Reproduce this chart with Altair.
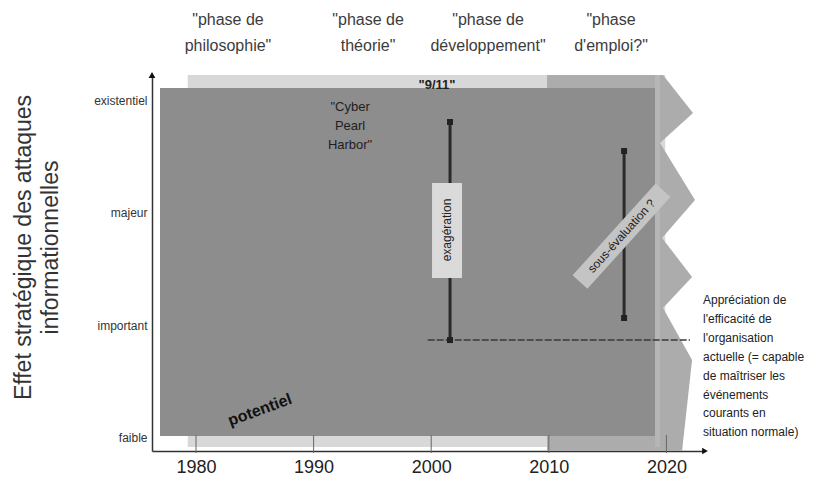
import altair as alt
import pandas as pd

FONT = "Liberation Sans"

# ---- axes ----
x_ticks = [1980, 1990, 2000, 2010, 2020]
y_levels = [0, 1, 2, 3]
y_names = ["faible", "important", "majeur", "existentiel"]
X_DOMAIN = [1976.26, 2023.28]
Y_DOMAIN = [-0.12, 3.225]
y_title = ["Effet stratégique des attaques", "informationnelles"]

# ---- background shapes (years / levels) ----
light_x = [1979.3, 2019.9]
light_y = [-0.085, 3.225]
dark_x = [1976.94, 2019.03]
dark_y = [0.013, 3.11]
band_x = [2019.03, 2019.45]
band_y = [-0.085, 3.225]
zig_left = 2009.85
zig_edge_x = [2019.71, 2022.26, 2019.45, 2022.43, 2019.63, 2022.18, 2019.71, 2022.18, 2021.33]
zig_edge_y = [3.225, 2.887, 2.620, 2.113, 1.775, 1.428, 1.152, 0.690, -0.12]
tick_y = [0.022, -0.138]

# ---- annotations ----
arrow_x = [2001.6, 2016.4]
arrow_lo = [0.867, 1.063]
arrow_hi = [2.807, 2.549]
threshold_x = [1999.7, 2022.0]
threshold_y = 0.867
exag_box_x = [2000.07, 2002.62]
exag_box_y = [1.419, 2.264]
sous_box = [(2012.65, 1.383), (2019.71, 2.2)]

phase_x = [1982.72, 1994.63, 2004.83, 2015.29]
phase_labels = ['"phase de\nphilosophie"', '"phase de\nthéorie"',
                '"phase de\ndéveloppement"', '"phase\nd\'emploi?"']
phase_y = 3.714

right_text = ("Appréciation de\nl'efficacité de\nl'organisation\nactuelle (= capable\n"
              "de maîtriser les\névénements\ncourants en\nsituation normale)")

xs = alt.Scale(domain=X_DOMAIN, nice=False, zero=False)
ys = alt.Scale(domain=Y_DOMAIN, nice=False, zero=False)

label_expr = "[" + ",".join("'%s'" % n for n in y_names) + "][datum.value]"

x_axis = alt.Axis(
    values=x_ticks, format="d", title=None, grid=False, ticks=False, tickSize=0,
    labelFontSize=18, labelFont=FONT, labelColor="#222", labelPadding=7,
    domainColor="#333", domainWidth=1.5)
y_axis = alt.Axis(
    values=y_levels, labelExpr=label_expr, grid=False, ticks=False, tickSize=0,
    labelFontSize=12, labelFont=FONT, labelColor="#333", labelPadding=5,
    domainColor="#333", domainWidth=1.5,
    title=y_title, titleFont=FONT, titleFontSize=23, titleFontWeight="normal",
    titleColor="#333", titleAngle=270, titleX=-140, titleY=172,
    titleAlign="center", titleBaseline="top", titleLineHeight=27)

X = alt.X("x:Q", scale=xs, axis=x_axis)
Y = alt.Y("y:Q", scale=ys, axis=y_axis)


def box(xr, yr, color):
    df = pd.DataFrame({"x": [xr[0]], "x2": [xr[1]], "y": [yr[0]], "y2": [yr[1]]})
    return alt.Chart(df).mark_rect(color=color).encode(x=X, x2="x2:Q", y=Y, y2="y2:Q")


light = box(light_x, light_y, "#d8d8d8")

zig = alt.Chart(pd.DataFrame({"y": zig_edge_y, "x": [zig_left] * len(zig_edge_y),
                              "x2": zig_edge_x})).mark_area(
    orient="horizontal", color="#acacac", opacity=1).encode(y=Y, x=X, x2="x2:Q")

band = box(band_x, band_y, "#b6b6b6")
dark = box(dark_x, dark_y, "#8d8d8d")

ticks = alt.Chart(pd.DataFrame({"x": x_ticks, "y": [tick_y[0]] * len(x_ticks),
                                "y2": [tick_y[1]] * len(x_ticks)})).mark_rule(
    color="#666", strokeWidth=1).encode(x=X, y=Y, y2="y2:Q")

threshold = alt.Chart(pd.DataFrame({"x": [threshold_x[0]], "x2": [threshold_x[1]],
                                    "y": [threshold_y]})).mark_rule(
    color="#3a3a3a", strokeWidth=1.6, strokeDash=[7, 2]).encode(x=X, x2="x2:Q", y=Y)

arr_df = pd.DataFrame({"x": arrow_x, "y": arrow_lo, "y2": arrow_hi})
arrows = alt.Chart(arr_df).mark_rule(color="#2a2a2a", strokeWidth=3).encode(
    x=X, y=Y, y2="y2:Q")
ends_df = pd.DataFrame({"x": arrow_x + arrow_x, "y": arrow_lo + arrow_hi})
ends = alt.Chart(ends_df).mark_point(shape="square", filled=True, size=36,
                                     color="#222", opacity=1).encode(x=X, y=Y)

exag_box = box(exag_box_x, exag_box_y, "#dadada")

sous_df = pd.DataFrame({"x": [sous_box[0][0]], "y": [sous_box[0][1]],
                        "x2": [sous_box[1][0]], "y2": [sous_box[1][1]]})
sous_bar = alt.Chart(sous_df).mark_rule(color="#c4c4c4", strokeWidth=20,
                                        strokeCap="butt").encode(
    x=X, x2="x2:Q", y=Y, y2="y2:Q")


def txt(x, y, text, size=13, angle=0, align="center", baseline="middle",
        weight="normal", color="#222", lh=None):
    kw = dict(font=FONT, fontSize=size, align=align, baseline=baseline,
              fontWeight=weight, color=color, lineBreak="\n")
    if angle:
        kw["angle"] = angle
    if lh:
        kw["lineHeight"] = lh
    return alt.Chart(pd.DataFrame({"x": [x], "y": [y], "t": [text]})).mark_text(**kw).encode(
        x=X, y=Y, text="t:N")


phases = alt.Chart(pd.DataFrame({"x": phase_x, "y": [phase_y] * 4,
                                 "t": phase_labels})).mark_text(
    font=FONT, fontSize=16, color="#3c3c3c", lineBreak="\n", lineHeight=26,
    align="center", baseline="middle").encode(x=X, y=Y, text="t:N")

texts = [
    txt(2000.49, 3.136, '"9/11"', size=13, weight="bold", color="#222"),
    txt(1993.1, 2.940, '"Cyber\nPearl\nHarbor"', size=13, lh=19, color="#1e1e1e"),
    txt(1985.44, 0.245, "potentiel", size=16, angle=340, weight="bold", color="#111"),
    txt(2001.34, 1.846, "exagération", size=12, angle=270, color="#222"),
    txt(2016.18, 1.793, "sous-évaluation ?", size=12, angle=312, color="#222"),
    txt(2023.11, 1.223, right_text, size=12, align="left", lh=18.9, color="#222"),
]

tri_right = alt.Chart(pd.DataFrame({"x": [X_DOMAIN[1]], "y": [Y_DOMAIN[0]]})).mark_point(
    shape="triangle-right", filled=True, size=45, color="#111", opacity=1).encode(x=X, y=Y)
tri_up = alt.Chart(pd.DataFrame({"x": [X_DOMAIN[0]], "y": [Y_DOMAIN[1]]})).mark_point(
    shape="triangle-up", filled=True, size=45, color="#111", opacity=1).encode(x=X, y=Y)

chart = alt.layer(
    light, zig, band, dark, ticks, threshold, arrows, ends, exag_box, sous_bar,
    phases, *texts, tri_right, tri_up
).properties(
    width=553, height=376,
    autosize=alt.AutoSizeParams(type="none"),
    padding={"left": 144, "top": 67, "right": 101, "bottom": 24},
    background="white",
).configure_view(stroke=None)

chart.save("out.html", embed_options={"renderer": "svg", "actions": False})
